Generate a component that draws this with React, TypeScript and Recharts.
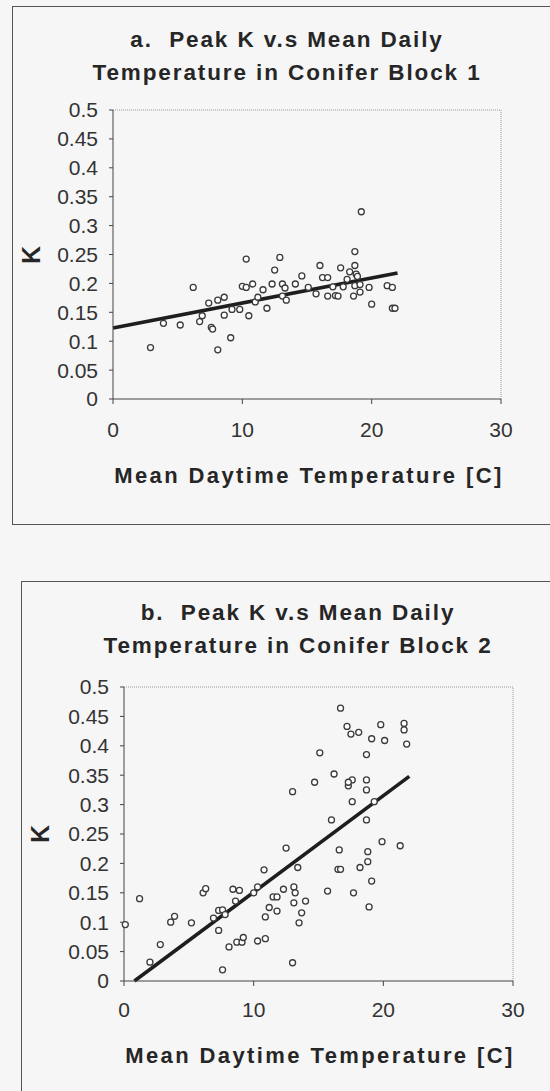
import React from "react";
import { ScatterChart, Scatter, XAxis, YAxis, ReferenceLine } from "recharts";

const xTicks = [0, 10, 20, 30];
const yTicks = [0, 0.05, 0.1, 0.15, 0.2, 0.25, 0.3, 0.35, 0.4, 0.45, 0.5];

// block 1
const block1Temp = [
  2.9, 3.9, 5.2, 6.2, 6.7, 6.9, 7.4, 7.6, 7.7, 8.1, 8.1, 8.6, 8.6, 9.1, 9.2, 9.8,
  10.0, 10.3, 10.3, 10.5, 10.8, 11.0, 11.2, 11.6, 11.9, 12.3, 12.5, 12.9, 13.1, 13.3,
  13.1, 13.4, 14.1, 14.6, 15.1, 15.7, 16.0, 16.2, 16.6, 16.6, 17.0, 17.2, 17.4, 17.6,
  17.8, 18.1, 18.3, 18.6, 18.7, 18.7, 18.7, 18.8, 18.9, 19.1, 19.1, 19.2, 19.8, 20.0,
  21.2, 21.6, 21.6, 21.8,
];
const block1K = [
  0.089, 0.131, 0.128, 0.193, 0.134, 0.144, 0.166, 0.124, 0.121, 0.085, 0.171, 0.176,
  0.145, 0.106, 0.155, 0.155, 0.195, 0.242, 0.193, 0.144, 0.199, 0.168, 0.176, 0.189,
  0.157, 0.199, 0.223, 0.245, 0.199, 0.192, 0.178, 0.171, 0.199, 0.213, 0.193, 0.182,
  0.231, 0.21, 0.21, 0.178, 0.194, 0.179, 0.178, 0.227, 0.194, 0.207, 0.22, 0.178,
  0.255, 0.231, 0.196, 0.216, 0.212, 0.198, 0.185, 0.324, 0.193, 0.164, 0.196, 0.193,
  0.157, 0.157,
];
const block1FitTemp = [0, 22];
const block1FitK = [0.123, 0.218];

// block 2
const block2Temp = [
  0.1, 1.2, 2.0, 2.8, 3.6, 3.9, 5.2, 6.1, 6.3, 6.9, 7.3, 7.6, 7.3, 7.6, 7.8, 8.1,
  8.4, 8.9, 8.6, 8.7, 9.1, 9.2, 10.0, 10.3, 10.3, 10.8, 10.9, 10.9, 11.2, 11.5, 11.8,
  11.8, 12.3, 12.5, 13.0, 13.1, 13.2, 13.1, 13.0, 13.4, 13.5, 13.7, 14.0, 14.7, 15.1,
  15.7, 16.0, 16.2, 16.5, 16.7, 16.6, 16.7, 17.2, 17.5, 18.1, 17.3, 17.6, 17.3, 17.6,
  17.7, 18.2, 18.7, 18.7, 18.7, 18.7, 19.3, 18.8, 18.8, 19.1, 18.9, 19.1, 19.8, 20.1,
  19.9, 21.3, 21.6, 21.6, 21.8,
];
const block2K = [
  0.096, 0.14, 0.032, 0.062, 0.1, 0.11, 0.099, 0.15, 0.157, 0.107, 0.12, 0.121, 0.086,
  0.019, 0.113, 0.058, 0.156, 0.154, 0.136, 0.066, 0.066, 0.074, 0.15, 0.16, 0.068,
  0.189, 0.072, 0.109, 0.125, 0.143, 0.143, 0.119, 0.156, 0.226, 0.322, 0.16, 0.15,
  0.133, 0.031, 0.193, 0.099, 0.116, 0.136, 0.338, 0.388, 0.153, 0.274, 0.352, 0.19,
  0.19, 0.223, 0.464, 0.433, 0.42, 0.423, 0.332, 0.342, 0.338, 0.305, 0.15, 0.193,
  0.385, 0.342, 0.325, 0.274, 0.305, 0.22, 0.203, 0.17, 0.126, 0.412, 0.436, 0.409,
  0.237, 0.23, 0.438, 0.427, 0.403,
];
const block2FitTemp = [0.8, 22];
const block2FitK = [0, 0.348];

const FONT = '"Liberation Sans", Arial, sans-serif';

const zip = (xs: number[], ys: number[]) => xs.map((x, i) => ({ x, y: ys[i] }));

const Ring = (p: any) => (
  <circle cx={p.cx} cy={p.cy} r={3} fill="#fff" stroke="#3a3a3a" strokeWidth={1.3} />
);

interface PanelProps {
  top: number;
  height: number;
  frameLeft: number;
  frameTop: number;
  frameHeight: number;
  title: string[];
  titleX: number;
  titleY: number[];
  kX: number;
  kY: number;
  xTitleX: number;
  xTitleY: number;
  plotLeft: number;
  plotTop: number;
  plotRight: number;
  plotBottom: number;
  labelGap: number;
  temps: number[];
  ks: number[];
  fitTemps: number[];
  fitKs: number[];
}

function Panel(p: PanelProps) {
  const data = zip(p.temps, p.ks);
  const fit = zip(p.fitTemps, p.fitKs);
  const text = (x: number, y: number, s: string, size: number, ls: number) => (
    <div
      style={{
        position: "absolute",
        left: x - 300,
        top: y - 13,
        width: 600,
        lineHeight: "26px",
        textAlign: "center",
        fontFamily: FONT,
        fontWeight: "bold",
        fontSize: size,
        letterSpacing: ls,
        whiteSpace: "pre",
        color: "#262626",
      }}
    >
      {s}
    </div>
  );
  return (
    <>
      <div
        style={{
          position: "absolute",
          left: p.frameLeft,
          top: p.frameTop,
          width: 700,
          height: p.frameHeight,
          border: "1px solid #555",
        }}
      />
      {p.title.map((t, i) => text(p.titleX, p.titleY[i], t, 22.5, 1.9))}
      {text(p.xTitleX, p.xTitleY, "Mean Daytime Temperature [C]", 22, 2.4)}
      <div
        style={{
          position: "absolute",
          left: p.kX - 20,
          top: p.kY - 15,
          width: 40,
          lineHeight: "30px",
          textAlign: "center",
          fontFamily: FONT,
          fontWeight: "bold",
          fontSize: 25,
          color: "#262626",
          transform: "rotate(-90deg)",
        }}
      >
        K
      </div>
      <div style={{ position: "absolute", left: 0, top: p.top }}>
        <ScatterChart
          width={550}
          height={p.height}
          margin={{
            top: p.plotTop - p.top,
            left: 0,
            right: 550 - p.plotRight,
            bottom: p.top + p.height - p.plotBottom - 40,
          }}
        >
          <XAxis
            type="number"
            dataKey="x"
            domain={[0, 30]}
            ticks={xTicks}
            interval={0}
            height={40}
            tickSize={5}
            tickMargin={p.labelGap}
            axisLine={{ stroke: "#444" }}
            tickLine={{ stroke: "#444" }}
            tick={{ fill: "#333", fontSize: 21, fontFamily: FONT }}
          />
          <YAxis
            type="number"
            dataKey="y"
            domain={[0, 0.5]}
            ticks={yTicks}
            interval={0}
            width={p.plotLeft}
            tickSize={4}
            tickMargin={11}
            tickFormatter={(v: number) => String(+v.toFixed(2))}
            axisLine={{ stroke: "#444" }}
            tickLine={{ stroke: "#444" }}
            tick={{ fill: "#333", fontSize: 21, fontFamily: FONT }}
          />
          <ReferenceLine y={0.5} stroke="#999" strokeDasharray="1 1" />
          <ReferenceLine x={30} stroke="#999" strokeDasharray="1 1" />
          <Scatter data={data} shape={Ring} isAnimationActive={false} />
          <ReferenceLine
            segment={[fit[0], fit[1]]}
            stroke="#1e1e1e"
            strokeWidth={3.6}
          />
        </ScatterChart>
      </div>
    </>
  );
}

export default function App() {
  return (
    <div
      style={{
        position: "absolute",
        left: 0,
        top: 0,
        width: 550,
        height: 1091,
        overflow: "hidden",
        background: "#f6f6f6",
      }}
    >
      <Panel
        top={0}
        height={540}
        frameLeft={12}
        frameTop={6}
        frameHeight={517}
        title={["a.  Peak K v.s Mean Daily", "Temperature in Conifer Block 1"]}
        titleX={287}
        titleY={[40, 73]}
        kX={31}
        kY={255}
        xTitleX={309}
        xTitleY={476}
        plotLeft={113}
        plotTop={110}
        plotRight={501}
        plotBottom={399}
        labelGap={18}
        temps={block1Temp}
        ks={block1K}
        fitTemps={block1FitTemp}
        fitKs={block1FitK}
      />
      <Panel
        top={560}
        height={531}
        frameLeft={21}
        frameTop={581}
        frameHeight={700}
        title={["b.  Peak K v.s Mean Daily", "Temperature in Conifer Block 2"]}
        titleX={298}
        titleY={[613, 646]}
        kX={40}
        kY={834}
        xTitleX={320}
        xTitleY={1056}
        plotLeft={124}
        plotTop={687}
        plotRight={513}
        plotBottom={981}
        labelGap={16}
        temps={block2Temp}
        ks={block2K}
        fitTemps={block2FitTemp}
        fitKs={block2FitK}
      />
    </div>
  );
}
